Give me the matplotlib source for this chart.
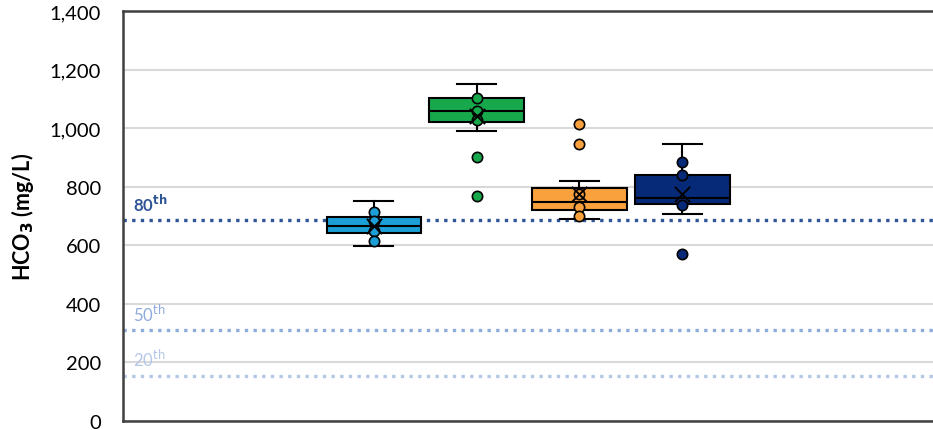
import matplotlib
matplotlib.use("Agg")
import matplotlib.pyplot as plt

plt.rcParams['font.family'] = ['Lato', 'DejaVu Sans']

# box statistics (mg/L)
groups = ["A", "B", "C", "D"]
whislo = [597, 991, 690, 708]
q1 = [642, 1022, 720, 741]
med = [666, 1060, 748, 762]
q3 = [697, 1104, 796, 840]
whishi = [751, 1152, 820, 946]
means = [666, 1040, 775, 775]

# individual samples drawn over the boxes
points = [
    [714, 683, 649, 614],
    [1104, 1060, 1027, 902, 768],
    [1015, 945, 776, 732, 700],
    [885, 840, 739, 570],
]

fills = ["#1b9fd6", "#17a84b", "#f9a13c", "#062a78"]

# percentile reference lines
pct_labels = ["80", "50", "20"]
pct_values = [686, 310, 155]
pct_colors = ["#2f5597", "#8faadc", "#b4c7e7"]

fig = plt.figure(figsize=(9.33, 4.31), dpi=100)
ax = fig.add_axes([0.132, 0.021, 0.868, 0.951])

stats = []
for i in range(len(groups)):
    stats.append(dict(med=med[i], q1=q1[i], q3=q3[i], whislo=whislo[i],
                      whishi=whishi[i], mean=means[i], fliers=[], label=groups[i]))

pos = [1, 2, 3, 4]
bp = ax.bxp(stats, positions=pos, widths=0.92, patch_artist=True, showmeans=False,
            showfliers=False,
            boxprops=dict(linewidth=1.5, edgecolor='black'),
            medianprops=dict(color='black', linewidth=1.5),
            whiskerprops=dict(color='black', linewidth=1.5),
            capprops=dict(color='black', linewidth=1.5), capwidths=0.38)
for patch, c in zip(bp['boxes'], fills):
    patch.set_facecolor(c)
    patch.set_zorder(2)

for p, pts, c, m in zip(pos, points, fills, means):
    ax.scatter([p] * len(pts), pts, s=55, color=c, edgecolor='black', linewidth=1.2, zorder=4)
    ax.scatter([p], [m], s=120, marker='x', color='black', linewidth=1.4, zorder=5)

ax.set_ylim(0, 1400)
ax.set_yticks(range(0, 1401, 200))
ax.set_yticklabels([f"{v:,}" for v in range(0, 1401, 200)], fontsize=14.5)
ax.set_xlim(-1.44, 6.44)
ax.set_xticks([])
ax.grid(axis='y', color='#d9d9d9', linewidth=1.5)
ax.set_axisbelow(True)
ax.tick_params(axis='y', length=0, pad=16)

ax.spines['right'].set_visible(False)
for side in ['left', 'top', 'bottom']:
    ax.spines[side].set_color('#404040')
    ax.spines[side].set_linewidth(1.8)

for val, lab, col in zip(pct_values, pct_labels, pct_colors):
    ax.axhline(val, color=col, linestyle=(0, (1, 1.6)), linewidth=2.4, zorder=1.5)
    bold = lab == "80"
    sup = "$^{\\mathbf{th}}$" if bold else "$^{\\mathrm{th}}$"
    ax.text(-1.34, val + 22, lab + sup, color=col, fontsize=12,
            fontweight='bold' if bold else 'normal', va='bottom')

ax.set_ylabel("HCO$_\\mathbf{3}$ (mg/L)", fontsize=15.5, fontweight='bold', labelpad=10)

fig.savefig("out.png", dpi=100)
